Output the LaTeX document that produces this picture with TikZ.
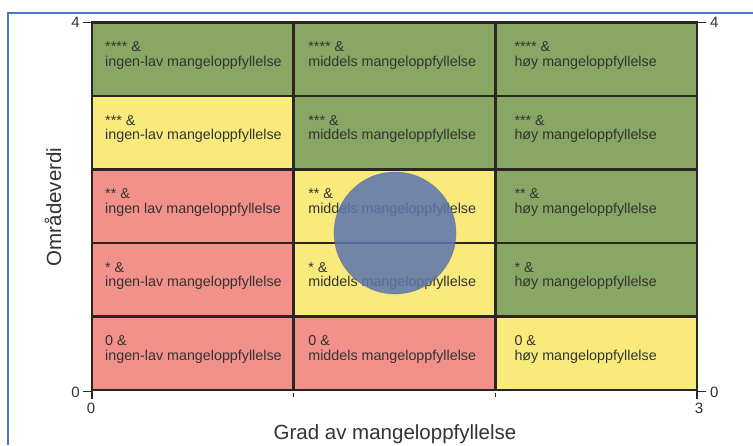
\documentclass[tikz,border=0pt]{standalone}
\usepackage{fontspec}
\setmainfont{Liberation Sans}
\definecolor{cgreen}{HTML}{88A765}
\definecolor{cyellow}{HTML}{F8EB7C}
\definecolor{cred}{HTML}{F29189}
\definecolor{gridc}{HTML}{2B2622}
\definecolor{txt}{HTML}{333333}
\definecolor{frameblue}{HTML}{4A78C8}
\definecolor{bubble}{HTML}{5A75AE}
\begin{document}
\begin{tikzpicture}[x=1pt,y=-1pt,
  cell/.style={draw=gridc, line width=2.8pt, minimum width=201.7pt, minimum height=73.5pt, inner sep=0pt, outer sep=0pt, anchor=north west},
  lbl/.style={anchor=base west, align=left, inner sep=0pt, text=txt, font=\fontsize{14.3}{14.3}\selectfont},
  ticklbl/.style={inner sep=0pt, text=txt, font=\fontsize{15}{15}\selectfont},
  axlbl/.style={inner sep=0pt, text=txt, font=\fontsize{20.5}{20.5}\selectfont},
  tick/.style={draw=gridc, line width=1.2pt}]
\useasboundingbox (0,0) rectangle (753,445);
\fill[white] (0,0) rectangle (753,445);
% frame
\coordinate (fa) at (753,13);
\coordinate (fb) at (8,13);
\coordinate (fc) at (8,445);
\draw[frameblue, line width=1.6pt] (fa) -- (fb) -- (fc);
% cells
\node[cell, fill=cgreen]  (c41) at (92,22.5) {};
\node[cell, fill=cgreen]  (c42) at (293.7,22.5) {};
\node[cell, fill=cgreen]  (c43) at (495.3,22.5) {};
\node[cell, fill=cyellow] (c31) at (92,96) {};
\node[cell, fill=cgreen]  (c32) at (293.7,96) {};
\node[cell, fill=cgreen]  (c33) at (495.3,96) {};
\node[cell, fill=cred]    (c21) at (92,169.5) {};
\node[cell, fill=cyellow] (c22) at (293.7,169.5) {};
\node[cell, fill=cgreen]  (c23) at (495.3,169.5) {};
\node[cell, fill=cred]    (c11) at (92,243) {};
\node[cell, fill=cyellow] (c12) at (293.7,243) {};
\node[cell, fill=cgreen]  (c13) at (495.3,243) {};
\node[cell, fill=cred]    (c01) at (92,316.5) {};
\node[cell, fill=cred]    (c02) at (293.7,316.5) {};
\node[cell, fill=cyellow] (c03) at (495.3,316.5) {};
% labels
\foreach \r/\s in {4/****,3/***,2/**,1/*,0/0} {
  \node[lbl] (t\r1) at ([shift={(13,43.5)}]c\r1.north west) {\s\ \&\\ \ifnum\r=2 ingen lav\else ingen-lav\fi\ mangeloppfyllelse};
  \node[lbl] (t\r2) at ([shift={(14.5,43.5)}]c\r2.north west) {\s\ \&\\ middels mangeloppfyllelse};
  \node[lbl] (t\r3) at ([shift={(19,43.5)}]c\r3.north west) {\s\ \&\\ høy mangeloppfyllelse};
}
% bubble
\node[circle, fill=bubble, fill opacity=0.85, draw=bubble!80!black, draw opacity=0.4, line width=0.6pt, minimum size=122pt, inner sep=0pt] (bub) at (395,233) {};
% ticks
\coordinate (tl4a) at (83,22.5);
\draw[tick] (tl4a) -- (c41.north west);
\node[ticklbl, anchor=east] (y4l) at (80,22) {4};
\coordinate (tr4a) at (706,22.5);
\draw[tick] (c43.north east) -- (tr4a);
\node[ticklbl, anchor=west] (y4r) at (710,22) {4};
\coordinate (bl0a) at (83,391.5);
\coordinate (bl0b) at (92,399);
\coordinate (bl0c) at (92,391.5);
\draw[tick] (bl0a) -- (bl0c) -- (bl0b);
\node[ticklbl, anchor=east] (y0l) at (80,392) {0};
\node[ticklbl, anchor=north] (x0) at (91,403) {0};
\coordinate (br0a) at (706,391.5);
\coordinate (br0b) at (697,399);
\coordinate (br0c) at (697,391.5);
\draw[tick] (br0a) -- (br0c) -- (br0b);
\node[ticklbl, anchor=west] (y0r) at (710,392) {0};
\node[ticklbl, anchor=north] (x3) at (699,403) {3};
\coordinate (m1a) at (293.7,393); \coordinate (m1b) at (293.7,397);
\coordinate (m2a) at (495.3,393); \coordinate (m2b) at (495.3,397);
\draw[tick] (m1a) -- (m1b);
\draw[tick] (m2a) -- (m2b);
% axis labels
\node[axlbl, anchor=base] (xl) at (395,439) {Grad av mangeloppfyllelse};
\node[axlbl, anchor=base, rotate=90] (yl) at (61,207) {Områdeverdi};
\end{tikzpicture}
\end{document}
